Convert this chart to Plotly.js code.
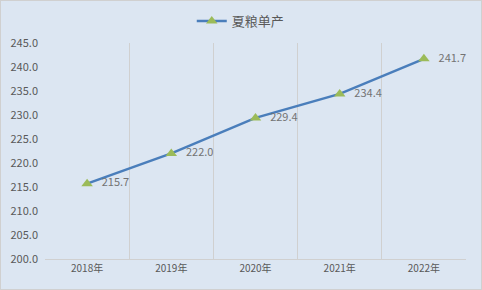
<!DOCTYPE html>
<html>
<head>
<meta charset="utf-8">
<script src="https://cdn.plot.ly/plotly-3.0.1.min.js"></script>
<style>
  html, body { margin: 0; padding: 0; background: #dce6f2; }
  #chart { width: 482px; height: 290px; box-sizing: border-box; border: 1px solid #d0d0d0; }
</style>
</head>
<body>
<div id="chart"></div>
<script>
// Summer grain yield per unit area, 2018–2022
const years = ['2018年', '2019年', '2020年', '2021年', '2022年'];
const yieldValues = [215.7, 222.0, 229.4, 234.4, 241.7];
const seriesName = '夏粮单产';

const font = '"Noto Sans CJK SC", "Microsoft YaHei", sans-serif';
const positions = years.map((_, i) => i);
const pad = '\u00a0\u00a0\u00a0';

const trace = {
  type: 'scatter',
  mode: 'lines+markers+text',
  name: seriesName,
  x: positions,
  y: yieldValues,
  text: yieldValues.map(v => pad + v.toFixed(1)),
  textposition: 'middle right',
  textfont: { family: font, size: 11, color: '#737373' },
  line: { color: '#4a7ebb', width: 2.5 },
  marker: { symbol: 'triangle-up', size: 10, color: '#9bbb59' },
  cliponaxis: false
};

// invisible trace on the boundary axis so category separators get drawn as grid
const boundary = {
  type: 'scatter', mode: 'none', x: [-0.5, 4.5], y: [200, 200],
  xaxis: 'x2', showlegend: false, hoverinfo: 'skip'
};

const layout = {
  width: 480, height: 288,
  margin: { l: 44, r: 15, t: 42, b: 30 },
  paper_bgcolor: '#dce6f2',
  plot_bgcolor: '#dce6f2',
  font: { family: font, color: '#595959', size: 11 },
  showlegend: true,
  legend: {
    orientation: 'h', x: 0.465, xanchor: 'center',
    yref: 'container', y: 0.93, yanchor: 'middle',
    font: { family: font, size: 13, color: '#595959' },
    bgcolor: 'rgba(0,0,0,0)'
  },
  xaxis: {
    range: [-0.5, 4.5],
    tickvals: positions,
    ticktext: years,
    showgrid: false,
    zeroline: false,
    showline: true,
    linecolor: '#d0d0d0',
    linewidth: 1,
    ticks: '',
    tickfont: { family: font, size: 10, color: '#595959' }
  },
  xaxis2: {
    overlaying: 'x',
    range: [-0.5, 4.5],
    tickvals: [-0.5, 0.5, 1.5, 2.5, 3.5, 4.5],
    showticklabels: false,
    showgrid: true,
    gridcolor: '#d0d0d0',
    gridwidth: 1,
    zeroline: false,
    ticks: ''
  },
  yaxis: {
    range: [200, 245],
    dtick: 5,
    tickformat: '.1f',
    showgrid: false,
    zeroline: false,
    showline: false,
    ticks: '',
    ticklabelstandoff: 6,
    tickfont: { family: font, size: 11, color: '#595959' }
  }
};

Plotly.newPlot('chart', [boundary, trace], layout, { staticPlot: true, displayModeBar: false });
</script>
</body>
</html>
